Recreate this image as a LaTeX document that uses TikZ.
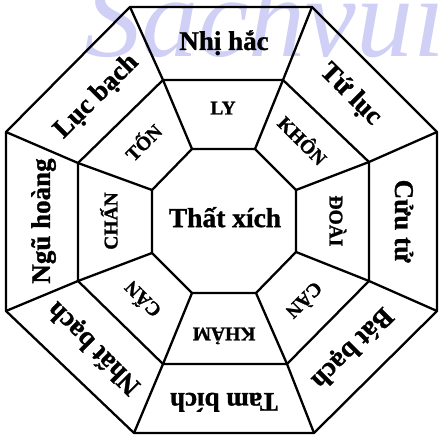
\documentclass[tikz,border=0pt]{standalone}
\usepackage{fontspec}
\setmainfont{Liberation Serif}[BoldFeatures={FakeBold=1.2}]
\definecolor{wmcol}{RGB}{208,208,246}
\begin{document}
\begin{tikzpicture}[x=1pt,y=-1pt,
  ln/.style={line width=2.3pt, line join=round, line cap=round},
  outerlbl/.style={font=\fontsize{27}{27}\selectfont\bfseries, inner sep=0pt, text height=17.9pt, text depth=0pt},
  innerlbl/.style={font=\fontsize{19.5}{19.5}\selectfont\bfseries, inner sep=0pt, text height=12.9pt, text depth=0pt},
  centerlbl/.style={font=\fontsize{27.5}{27.5}\selectfont\bfseries, inner sep=0pt, text height=18.2pt, text depth=0pt},
  wmark/.style={font=\fontsize{114}{114}\selectfont\itshape, text=wmcol, inner sep=0pt, anchor=base west}]
\useasboundingbox (0,0) rectangle (440,438);
\begin{scope}
  \clip (0,0) rectangle (440,438);
  \node[wmark] (wm) at (84,57) {Sachvui};
\end{scope}
% outer octagon
\coordinate (o1) at (130,7);
\coordinate (o2) at (312,7);
\coordinate (o3) at (437,132);
\coordinate (o4) at (437,311);
\coordinate (o5) at (314,433);
\coordinate (o6) at (134,433);
\coordinate (o7) at (6,311);
\coordinate (o8) at (6,132);
% middle octagon
\coordinate (m1) at (163,80);
\coordinate (m2) at (283,80);
\coordinate (m3) at (369,162);
\coordinate (m4) at (369,281);
\coordinate (m5) at (287,364);
\coordinate (m6) at (163,364);
\coordinate (m7) at (78,281);
\coordinate (m8) at (78,163);
% inner octagon
\coordinate (n1) at (192,149);
\coordinate (n2) at (255,149);
\coordinate (n3) at (296,190);
\coordinate (n4) at (296,252);
\coordinate (n5) at (256,293);
\coordinate (n6) at (192,293);
\coordinate (n7) at (152,253);
\coordinate (n8) at (152,190);
\draw[ln] (o1) -- (o2) -- (o3) -- (o4) -- (o5) -- (o6) -- (o7) -- (o8) -- cycle;
\draw[ln] (m1) -- (m2) -- (m3) -- (m4) -- (m5) -- (m6) -- (m7) -- (m8) -- cycle;
\draw[ln] (n1) -- (n2) -- (n3) -- (n4) -- (n5) -- (n6) -- (n7) -- (n8) -- cycle;
\foreach \i in {1,...,8} { \draw[ln] (o\i) -- (m\i) -- (n\i); }
% outer labels
\node[outerlbl] (t1) at (224,41) {Nhị hắc};
\node[outerlbl, rotate=-45] (t2) at (352,93) {Tứ lục};
\node[outerlbl, rotate=-90] (t3) at (404,221) {Cửu tử};
\node[outerlbl, rotate=-135] (t4) at (353,349) {Bát bạch};
\node[outerlbl, rotate=180] (t5) at (224,402) {Tam bích};
\node[outerlbl, rotate=135] (t6) at (93,349) {Nhất bạch};
\node[outerlbl, rotate=90] (t7) at (41,221) {Ngũ hoàng};
\node[outerlbl, rotate=45] (t8) at (95,95) {Lục bạch};
% inner labels
\node[innerlbl] (i1) at (223,108) {LY};
\node[innerlbl, rotate=-45] (i2) at (302,141) {KHÔN};
\node[innerlbl, rotate=-90] (i3) at (336,221) {ĐOÀI};
\node[innerlbl, rotate=-135] (i4) at (304,300) {CÀN};
\node[innerlbl, rotate=180] (i5) at (224,334) {KHẢM};
\node[innerlbl, rotate=135] (i6) at (143,299) {CẤN};
\node[innerlbl, rotate=90] (i7) at (111,221) {CHẤN};
\node[innerlbl, rotate=45] (i8) at (144,143) {TỐN};
% center
\node[centerlbl] (c) at (225,218) {Thất xích};
\end{tikzpicture}
\end{document}
